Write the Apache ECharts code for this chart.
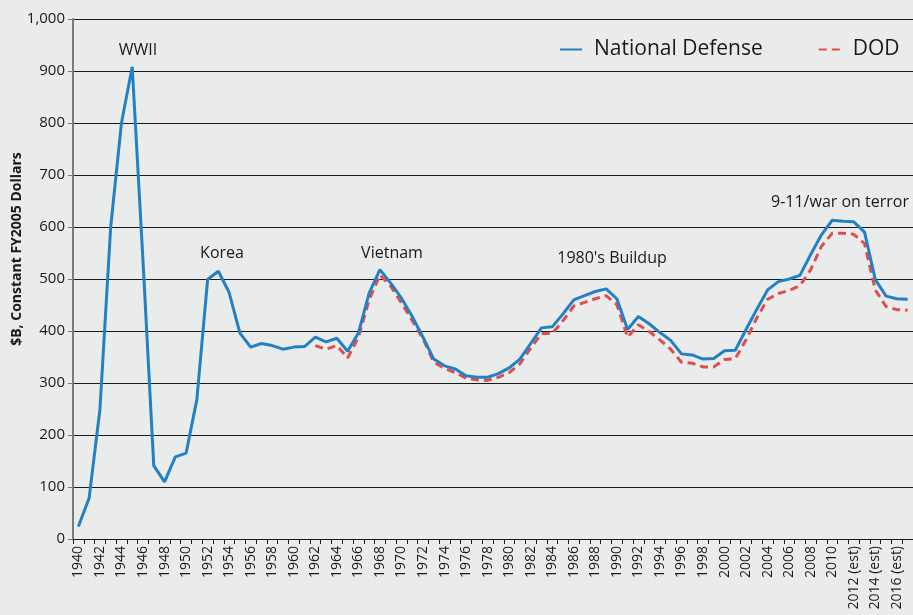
<!DOCTYPE html>
<html>
<head>
<meta charset="utf-8">
<script src="https://cdn.jsdelivr.net/npm/echarts@6/dist/echarts.min.js"></script>
<style>
html,body{margin:0;padding:0;background:#e9eceb;}
#c{width:913px;height:615px;}
</style>
</head>
<body>
<div id="c"></div>
<script>
var years = ['1940','1941','1942','1943','1944','1945','1946','1947','1948','1949',
'1950','1951','1952','1953','1954','1955','1956','1957','1958','1959',
'1960','1961','1962','1963','1964','1965','1966','1967','1968','1969',
'1970','1971','1972','1973','1974','1975','1976','1977','1978','1979',
'1980','1981','1982','1983','1984','1985','1986','1987','1988','1989',
'1990','1991','1992','1993','1994','1995','1996','1997','1998','1999',
'2000','2001','2002','2003','2004','2005','2006','2007','2008','2009',
'2010','2011','2012 (est)','2013 (est)','2014 (est)','2015 (est)','2016 (est)','2017 (est)'];

var nationalDefense = [24,79,249,600,800,908,535,141,110,158,
165,268,499,515,474,396,369,376,372,365,
369,370,388,379,386,361,396,473,518,492,
463,428,388,346,333,327,314,311,311,318,
329,346,376,406,408,433,460,468,476,481,
462,403,428,414,397,382,356,354,346,347,
362,363,403,442,479,495,500,507,547,585,
613,611,610,590,499,467,462,461];

var dod = [null,null,null,null,null,null,null,null,null,null,
null,null,null,null,null,null,null,null,null,null,
null,null,372,365,372,348,388,460,508,486,
454,420,385,340,328,320,309,306,305,311,
320,337,367,395,395,420,448,455,462,468,
451,388,412,399,383,365,340,338,331,331,
345,347,383,425,461,472,478,487,518,563,
588,588,586,568,479,447,441,440];

var annotations = ['WWII','Korea','Vietnam',"1980's Buildup",'9-11/war on terror'];
var yAxisTitle = '$B, Constant FY2005 Dollars';

var FONT = '"Open Sans", "Noto Sans", sans-serif';
var chart = echarts.init(document.getElementById('c'));
var annPos = [[138,50],[222,253],[392,253],[612,258],[840,202]];

chart.setOption({
  backgroundColor: '#e9eceb',
  animation: false,
  textStyle: {fontFamily: FONT},
  grid: {left: 73, top: 19, bottom: 76, right: -5.5, containLabel: false},
  legend: {
    left: 554, top: 34,
    itemWidth: 22, itemHeight: 14, itemGap: 55,
    itemStyle: {opacity: 0},
    textStyle: {fontSize: 21, color: '#1a1a1a', fontFamily: FONT, padding: [0, 0, 0, 7]},
    data: ['National Defense','DOD']
  },
  xAxis: {
    type: 'category',
    data: years,
    boundaryGap: true,
    axisLine: {lineStyle: {color: '#1a1a1a', width: 1}},
    axisTick: {show: true, interval: 0, length: 5, lineStyle: {color: '#1a1a1a'}},
    axisLabel: {interval: 1, rotate: 90, fontSize: 14, color: '#1a1a1a', margin: 7, fontFamily: FONT},
    splitLine: {show: false}
  },
  yAxis: {
    type: 'value',
    min: 0, max: 1000, interval: 100,
    axisLine: {show: true, lineStyle: {color: '#7a7a7a', width: 2}},
    axisTick: {show: true, length: 5, lineStyle: {color: '#7a7a7a'}},
    axisLabel: {fontSize: 15, color: '#1a1a1a', margin: 8, fontFamily: FONT,
      formatter: function (v) { return v.toLocaleString('en-US'); }},
    splitLine: {show: true, lineStyle: {color: '#1a1a1a', width: 1}}
  },
  graphic: [{
    type: 'text', rotation: Math.PI / 2,
    x: 17, y: 249,
    style: {text: yAxisTitle, font: 'bold 14px ' + FONT, fill: '#1a1a1a', align: 'center', verticalAlign: 'middle'}
  }].concat(annotations.map(function (t, i) {
    return {type: 'text', x: annPos[i][0], y: annPos[i][1],
      style: {text: t, font: '16px ' + FONT, fill: '#1a1a1a', align: 'center', verticalAlign: 'middle'}};
  })),
  series: [{
    name: 'National Defense', type: 'line', data: nationalDefense,
    symbol: 'none', lineStyle: {color: '#2580c3', width: 3}, itemStyle: {color: '#2580c3'}, z: 3
  }, {
    name: 'DOD', type: 'line', data: dod,
    symbol: 'none', lineStyle: {color: '#dd4f4f', width: 3, type: [8, 5]}, itemStyle: {color: '#dd4f4f'}, z: 2
  }]
});
</script>
</body>
</html>
